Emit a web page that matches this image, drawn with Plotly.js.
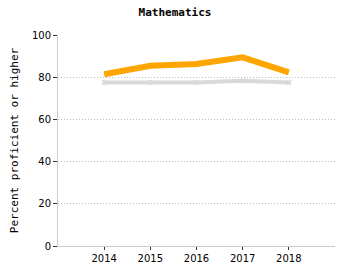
<!DOCTYPE html>
<html><head><meta charset="utf-8">
<script src="https://cdn.plot.ly/plotly-3.0.1.min.js"></script>
<style>html,body{margin:0;padding:0;background:#fff}#chart{width:350px;height:280px}</style>
</head><body><div id="chart"></div>
<script>
const years = [2014, 2015, 2016, 2017, 2018];
const seriesA = [81.4, 85.4, 86.3, 89.4, 82.3];
const seriesB = [77.5, 77.5, 77.5, 78.3, 77.5];
const yTicks = [0, 20, 40, 60, 80, 100];
const chartTitle = "Mathematics";
const yTitle = "Percent proficient or higher";

const tickFont = {family: "DejaVu Sans, Verdana, sans-serif", size: 10, color: "#000"};
const monoFont = {family: "DejaVu Sans Mono, monospace", size: 11, color: "#000"};
const data = [
  {x: years, y: seriesB, type: "scatter", mode: "lines+markers",
   line: {color: "#d9d9d9", width: 4}, marker: {color: "#d9d9d9", size: 5, symbol: "x"},
   hoverinfo: "skip", showlegend: false},
  {x: years, y: seriesA, type: "scatter", mode: "lines",
   line: {color: "#ffa500", width: 6}, hoverinfo: "skip", showlegend: false}
];
const layout = {
  width: 350, height: 280,
  margin: {l: 58, r: 15, t: 35, b: 34},
  paper_bgcolor: "#fff", plot_bgcolor: "#fff",
  font: tickFont,
  title: {text: "<b>" + chartTitle + "</b>", x: 0.5, xanchor: "center", y: 0.955, yanchor: "middle",
          font: monoFont},
  xaxis: {range: [2013, 2019], tickvals: years, ticktext: years.map(String),
          showgrid: false, zeroline: false, showline: true, linecolor: "#cccccc", linewidth: 1,
          ticks: "outside", ticklen: 3, tickcolor: "#333", tickfont: tickFont, fixedrange: true},
  yaxis: {range: [0, 100], tickvals: yTicks, showgrid: true, gridcolor: "#bdbdbd", griddash: "1px,2px",
          gridwidth: 1, zeroline: false, showline: true, linecolor: "#cccccc", linewidth: 1,
          ticks: "outside", ticklen: 4, tickcolor: "#333", tickfont: tickFont,
          title: {text: yTitle, font: monoFont, standoff: 11},
          fixedrange: true}
};
Plotly.newPlot("chart", data, layout, {staticPlot: true, displayModeBar: false});
</script></body></html>
